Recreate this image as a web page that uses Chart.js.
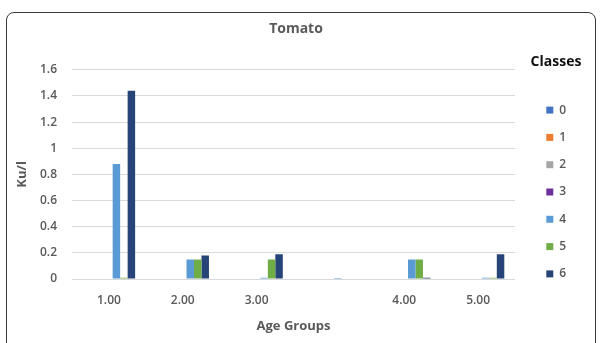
<!DOCTYPE html>
<html>
<head>
<meta charset="utf-8">
<script src="https://cdn.jsdelivr.net/npm/chart.js@4.4.1/dist/chart.umd.min.js"></script>
<style>
  html, body { margin: 0; padding: 0; background: #fff; }
  body { width: 600px; height: 343px; overflow: hidden; position: relative; }
  .frame {
    position: absolute; left: 6px; top: 12px; width: 590px; height: 345px;
    border: 1px solid #3a3a3a; border-radius: 8px; box-sizing: border-box;
  }
  .chart-box { position: absolute; left: 7px; top: 13px; width: 590px; height: 330px; }
</style>
</head>
<body>
<div class="frame"></div>
<div class="chart-box"><canvas id="tomatoChart"></canvas></div>
<script>
// カテゴリ（年齢グループ）
const categories = ['1.00', '2.00', '3.00', '', '4.00', '5.00'];

// クラス別の値（Ku/l）
const classNames = ['0', '1', '2', '3', '4', '5', '6'];
const class0 = [0, 0, 0, 0, 0, 0];
const class1 = [0, 0, 0, 0, 0, 0];
const class2 = [0, 0, 0, 0, 0, 0];
const class3 = [0, 0, 0, 0, 0, 0];
const class4 = [0.88, 0.15, 0.01, 0.008, 0.15, 0.01];
const class5 = [0.01, 0.15, 0.15, 0, 0.15, 0.01];
const class6 = [1.44, 0.18, 0.19, 0, 0.01, 0.19];

// y軸の目盛り
const yTicks = [0, 0.2, 0.4, 0.6, 0.8, 1, 1.2, 1.4, 1.6];

const classColors = ['#4472C4', '#ED7D31', '#A5A5A5', '#7030A0', '#5B9BD5', '#70AD47', '#264478'];
const classValues = [class0, class1, class2, class3, class4, class5, class6];

// 凡例の幅を固定し、タイトル「Classes」が切れないようにクリップを外す
const legendBoxPlugin = {
  id: 'legendBox',
  afterInit(chart) {
    const legend = chart.legend;
    if (!legend) return;
    const origFit = legend.fit;
    legend.fit = function() {
      origFit.call(this);
      this.width = 50;
    };
    legend.draw = function() {
      if (this.options.display) this._draw();
    };
  }
};

const ctx = document.getElementById('tomatoChart');
new Chart(ctx, {
  type: 'bar',
  data: {
    labels: categories,
    datasets: classValues.map((values, i) => ({
      label: classNames[i],
      data: values,
      backgroundColor: classColors[i],
      borderWidth: 0,
      categoryPercentage: 0.71,
      barPercentage: 1.0
    }))
  },
  plugins: [legendBoxPlugin],
  options: {
    responsive: true,
    maintainAspectRatio: false,
    animation: false,
    layout: {
      padding: { left: 4, right: 16, top: 0, bottom: 0 }
    },
    plugins: {
      title: {
        display: true,
        text: 'Tomato',
        color: '#595959',
        font: { family: 'Open Sans', size: 14, weight: 'bold' },
        padding: { top: 8, bottom: 32 }
      },
      legend: {
        position: 'right',
        align: 'start',
        title: {
          display: true,
          text: 'Classes',
          color: '#111',
          font: { family: 'Open Sans', size: 14, weight: 'bold' },
          padding: { top: 42, bottom: 17 }
        },
        labels: {
          boxWidth: 7,
          boxHeight: 7,
          padding: 15.3,
          color: '#595959',
          font: { family: 'Open Sans', size: 12, weight: '600' }
        }
      },
      tooltip: { enabled: false }
    },
    scales: {
      x: {
        grid: { display: false, drawTicks: false },
        border: { display: false },
        afterFit: function(scale) { scale.height = 64; },
        ticks: {
          color: '#595959',
          font: { family: 'Open Sans', size: 12, weight: '600' },
          padding: 14,
          maxRotation: 0
        },
        title: {
          display: true,
          text: 'Age Groups',
          color: '#595959',
          font: { family: 'Open Sans', size: 13, weight: 'bold' },
          padding: { top: 10, bottom: 9 }
        }
      },
      y: {
        min: 0,
        max: 1.6,
        afterBuildTicks: function(axis) {
          axis.ticks = yTicks.map(v => ({ value: v }));
        },
        afterFit: function(scale) { scale.width = 61; },
        grid: { color: '#d9d9d9', drawTicks: false },
        border: { display: false },
        ticks: {
          color: '#595959',
          font: { family: 'Open Sans', size: 12, weight: '600' },
          padding: 15,
          callback: function(value) {
            return String(Math.round(value * 10) / 10);
          }
        },
        title: {
          display: true,
          text: 'Ku/l',
          color: '#595959',
          font: { family: 'Open Sans', size: 13, weight: 'bold' },
          padding: { top: 3, bottom: 9 }
        }
      },
      // 凡例との間の余白用
      gap: {
        type: 'linear',
        position: 'right',
        display: true,
        grid: { display: false, drawTicks: false },
        border: { display: false },
        ticks: { display: false },
        afterFit: function(scale) { scale.width = 16; }
      }
    }
  }
});
</script>
</body>
</html>
